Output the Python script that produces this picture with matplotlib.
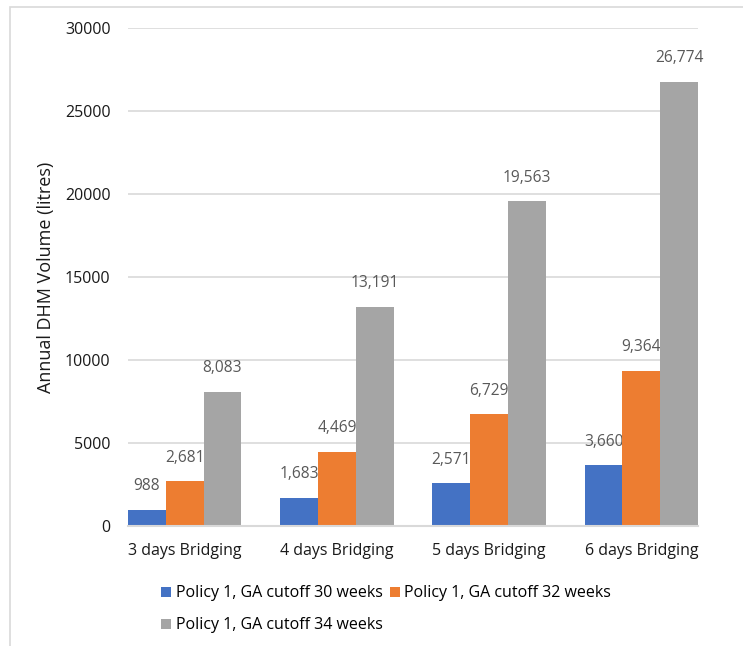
import numpy as np
import matplotlib.pyplot as plt
from matplotlib.patches import Rectangle

plt.rcParams['font.family'] = ['Open Sans', 'DejaVu Sans']

categories = ['3 days Bridging', '4 days Bridging', '5 days Bridging', '6 days Bridging']
series_names = ['Policy 1, GA cutoff 30 weeks',
                'Policy 1, GA cutoff 32 weeks',
                'Policy 1, GA cutoff 34 weeks']
cutoff_30 = [988, 1683, 2571, 3660]
cutoff_32 = [2681, 4469, 6729, 9364]
cutoff_34 = [8083, 13191, 19563, 26774]
colors = ['#4472C4', '#ED7D31', '#A5A5A5']

fig = plt.figure(figsize=(7.43, 6.46), dpi=100)
ax = fig.add_axes([128 / 743, 1 - 526 / 646, 570 / 743, 498 / 646])

# light frame like the Excel chart area (cut off at right and bottom)
fig.patches.append(Rectangle((9.5 / 743, -0.1), 1.2, 1 - 6.5 / 646 + 0.1,
                             transform=fig.transFigure, fill=False,
                             edgecolor='#d9d9d9', linewidth=1.2))

x = np.arange(len(categories))
w = 0.248
handles = []
for i, (vals, name, c) in enumerate(zip([cutoff_30, cutoff_32, cutoff_34], series_names, colors)):
    pos = x + (i - 1) * w
    b = ax.bar(pos, vals, width=w, color=c, label=name, zorder=3)
    handles.append(b)
    for px, v in zip(pos, vals):
        ax.annotate(f'{v:,}', (px, v), xytext=(0, 17), textcoords='offset points',
                    ha='center', va='center', fontsize=11.2, color='#595959')

ax.set_xlim(-1.5 * w, 3 + 1.5 * w)
ax.set_ylim(0, 30000)
ax.set_yticks(np.arange(0, 30001, 5000))
ax.set_xticks(x)
ax.set_xticklabels(categories)
ax.tick_params(axis='both', length=0, labelsize=11.5, colors='#1a1a1a')
ax.tick_params(axis='y', pad=12.5)
ax.tick_params(axis='x', pad=12.5)
ax.grid(axis='y', color='#d9d9d9', linewidth=1.2, zorder=0)
for s in ['top', 'right', 'left']:
    ax.spines[s].set_visible(False)
ax.spines['bottom'].set_color('#d9d9d9')
ax.spines['bottom'].set_linewidth(1.5)
ax.spines['bottom'].set_zorder(4)

ax.set_ylabel('Annual DHM Volume (litres)', fontsize=13, color='#1a1a1a')
ax.yaxis.set_label_coords(-73 / 570, 0.5)

# order so rows read: 30, 32 / 34
order = [0, 2, 1]
fig.legend([handles[k] for k in order], [series_names[k] for k in order],
           loc='upper left', bbox_to_anchor=(155 / 743, 1 - 579 / 646), ncol=2,
           frameon=False, fontsize=11.5, handlelength=0.62, handleheight=0.62,
           handletextpad=0.28, columnspacing=0.45, labelspacing=1.0,
           borderaxespad=0, borderpad=0.4)

fig.savefig('out.png', dpi=100)
